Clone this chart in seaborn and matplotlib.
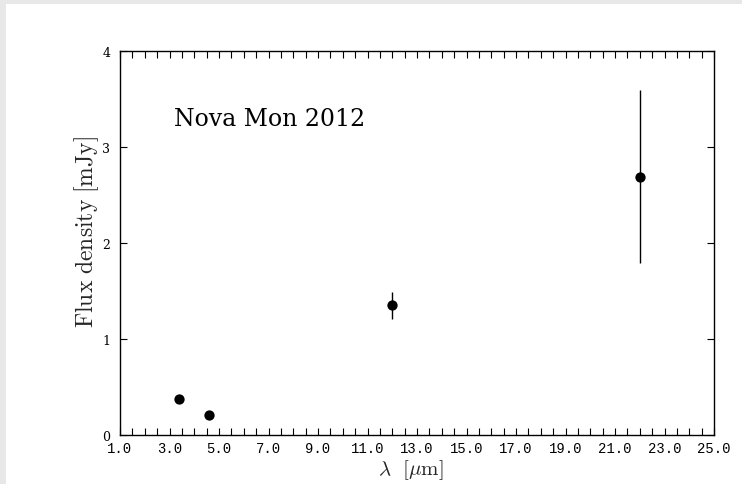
import numpy as np
import pandas as pd
import seaborn as sns
import matplotlib
matplotlib.use("Agg")
import matplotlib.pyplot as plt
from matplotlib.ticker import MultipleLocator, FormatStrFormatter
from matplotlib.patches import Rectangle

# Data (WISE bands)
wavelength = [3.4, 4.6, 12.0, 22.0]
flux = [0.38, 0.21, 1.35, 2.69]
flux_err = [0.0, 0.0, 0.14, 0.90]
x_ticks = [1.0, 3.0, 5.0, 7.0, 9.0, 11.0, 13.0, 15.0, 17.0, 19.0, 21.0, 23.0, 25.0]
y_ticks = [0, 1, 2, 3, 4]
title_text = "Nova Mon 2012"
xlabel = r"$\lambda\ \ [\mu\mathrm{m}]$"
ylabel = r"$\mathrm{Flux\ density\ [mJy]}$"

sns.set_theme(style="white")
plt.rcParams['font.family'] = ['DejaVu Serif']
plt.rcParams['mathtext.fontset'] = 'cm'

df = pd.DataFrame({"wl": wavelength, "flux": flux, "err": flux_err})

fig = plt.figure(figsize=(7.42, 4.85), dpi=100, facecolor="#e8e8e8")
bg = Rectangle((6/742, 0), 1, 1 - 5/485, transform=fig.transFigure,
               facecolor="white", edgecolor="none", zorder=-10)
fig.add_artist(bg)
ax = fig.add_axes([120/742, 1 - 436/485, 594/742, 384/485])
ax.set_zorder(5)
ax.set_facecolor("white")

mask = df["err"] > 0
ax.errorbar(df.loc[mask, "wl"], df.loc[mask, "flux"], yerr=df.loc[mask, "err"],
            fmt="none", ecolor="black", elinewidth=1.0, capsize=0, zorder=2)
sns.scatterplot(data=df, x="wl", y="flux", ax=ax, color="black", s=55,
                edgecolor="black", linewidth=0, zorder=3, legend=False)

ax.set_xlim(1, 25)
ax.set_ylim(0, 4)
ax.set_xticks(x_ticks)
ax.xaxis.set_minor_locator(MultipleLocator(0.5))
ax.xaxis.set_major_formatter(FormatStrFormatter("%.1f"))
ax.set_yticks(y_ticks)

for s in ax.spines.values():
    s.set_color("black")
    s.set_linewidth(1.0)
    s.set_visible(True)

ax.tick_params(axis="x", which="both", direction="in", top=True, bottom=True,
               length=5, width=0.8, color="black", pad=4,
               labelsize=10, labelcolor="black")
ax.tick_params(axis="y", which="both", direction="in", left=True, right=True,
               length=5, width=0.8, color="black", pad=7,
               labelsize=9, labelcolor="black")
for lbl in ax.get_xticklabels():
    lbl.set_family(["Liberation Mono", "DejaVu Sans Mono"])
for lbl in ax.get_yticklabels():
    lbl.set_family(["DejaVu Serif"])

ax.set_xlabel(xlabel, fontsize=15)
ax.xaxis.set_label_coords(0.49, -0.058)
ax.set_ylabel(ylabel, fontsize=17)
ax.yaxis.set_label_coords(-0.032, 0.53)

ax.text(3.2, 3.3, title_text, fontsize=17, ha="left", va="center",
        family=["DejaVu Serif"], color="black")

fig.savefig("out.png", dpi=100, facecolor=fig.get_facecolor())
